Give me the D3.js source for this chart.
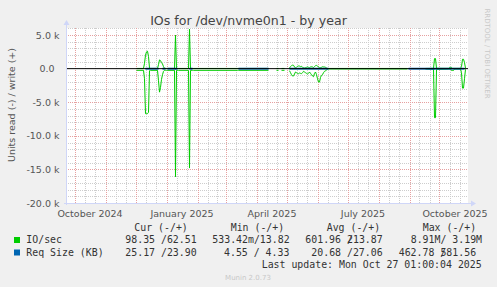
<!DOCTYPE html>
<html>
<head>
<meta charset="utf-8">
<script src="https://cdn.jsdelivr.net/npm/d3@7"></script>
<style>
body{margin:0;background:#f0f0f0;}
svg{display:block;font-family:"DejaVu Sans",sans-serif;}
.axis text{font-size:9.5px;fill:#555;font-family:"DejaVu Sans",sans-serif;}
.mono{font-family:"DejaVu Sans Mono",monospace;font-size:9.9px;fill:#333;}
</style>
</head>
<body>
<svg id="chart" width="497" height="287"></svg>
<script>
//***************************
//DATA (one entry per day, null = no sample)
//***************************
var days=["2024-12-02","2024-12-09","2024-12-10","2024-12-11","2024-12-12","2024-12-13","2024-12-14","2024-12-15","2024-12-16",
	"2024-12-23","2024-12-24","2024-12-25","2024-12-26","2024-12-27","2024-12-28","2024-12-29","2024-12-30","2024-12-31",
	"2025-01-01","2025-01-02","2025-01-09","2025-01-10","2025-01-11","2025-01-12","2025-01-13","2025-01-23","2025-01-24",
	"2025-01-25","2025-01-27","2025-01-28","2025-03-13","2025-03-14","2025-04-13","2025-04-14","2025-04-21","2025-04-23",
	"2025-04-24","2025-04-26","2025-04-29","2025-04-30",
	"2025-05-04","2025-05-05","2025-05-06","2025-05-07","2025-05-08","2025-05-09","2025-05-10","2025-05-11","2025-05-12",
	"2025-05-13","2025-05-14","2025-05-15","2025-05-16","2025-05-17","2025-05-18","2025-05-19","2025-05-20","2025-05-21",
	"2025-05-22","2025-05-23","2025-05-24","2025-05-25","2025-05-26","2025-05-27","2025-05-28","2025-05-29","2025-05-30",
	"2025-05-31","2025-06-01","2025-06-02","2025-06-03","2025-06-04","2025-06-05","2025-06-06","2025-06-07","2025-06-08",
	"2025-06-09","2025-06-10","2025-06-11","2025-06-12","2025-08-30","2025-08-31","2025-09-17","2025-09-25","2025-09-26",
	"2025-09-27","2025-09-28","2025-10-10","2025-10-11","2025-10-12","2025-10-13","2025-10-14","2025-10-15","2025-10-16",
	"2025-10-22","2025-10-23","2025-10-24","2025-10-25","2025-10-26","2025-10-27"];

var ioRead=[250,250,1500,6700,6700,6700,6500,300,250,
	250,1800,3500,2800,1600,900,400,250,250,
	250,250,250,16100,250,250,250,250,14800,
	250,250,250,250,250,250,null,250,250,
	null,250,250,null,
	300,600,900,1100,1100,800,500,600,700,
	750,650,700,750,600,400,500,600,700,
	800,700,500,700,900,1100,1200,700,500,
	900,1500,2000,2000,1300,1000,900,600,400,
	350,200,50,50,50,null,50,80,7300,
	7300,100,60,60,60,270,270,270,60,
	60,600,2900,2900,1500,98.35];

var ioWrite=[30,30,800,2000,2500,2600,1800,100,30,
	30,600,1300,1200,900,700,300,30,30,
	30,30,30,5000,30,30,30,30,5900,
	30,30,30,30,30,30,null,30,30,
	null,30,30,null,
	100,300,450,520,500,250,100,200,350,
	400,380,300,350,200,150,100,150,200,
	250,200,150,250,280,250,150,300,450,
	480,400,250,100,150,200,280,260,250,
	200,100,30,30,30,null,30,40,1500,
	1500,50,40,180,180,180,40,40,40,
	40,300,1400,1400,900,62.51];

var sizeRead=[null,null,null,24,26,27,25,22,20,
	21,24,null,null,null,23,22,21,20,
	null,22,23,28,24,22,null,null,27,
	23,22,null,null,21,22,null,null,null,
	null,null,null,null,
	21,22,23,24,22,21,20,22,23,
	24,22,21,20,22,23,21,22,24,
	23,22,21,20,22,23,24,22,21,
	20,22,23,24,22,21,20,22,23,
	21,22,21,22,null,23,24,30,
	29,25,24,23,24,25,24,25,24,
	24,25,26,26,25,25.17];

var sizeWrite=[null,null,null,22,23,25,24,21,22,
	23,25,null,null,null,24,23,22,21,
	null,24,25,30,26,24,null,null,29,
	25,24,null,null,23,24,null,null,null,
	null,null,null,null,
	26,27,28,27,26,25,27,28,27,
	26,27,28,26,27,28,27,26,27,
	28,27,26,27,28,27,26,27,28,
	27,26,27,28,27,26,27,28,27,
	26,27,24,25,null,24,25,28,
	27,24,23,24,24,23,24,24,23,
	24,24,25,25,24,23.90];

var yTicks=[-20000,-15000,-10000,-5000,0,5000];
var xLabelDays=["2024-10-16","2025-01-16","2025-04-16","2025-07-16","2025-10-16"];

var legendNames=["IO/sec","Req Size (KB)"];
var legendColors=["#00cc00","#0066b3"];
var legendHeads=["Cur (-/+)","Min (-/+)","Avg (-/+)","Max (-/+)"];
var curText=["98.35 /62.51","25.17 /23.90"];
var minText=["533.42m/13.82","4.55 / 4.33"];
var avgText=[["601.96 /","213.87"],["20.68 /27.06"]];
var maxText=[["8.91M/ 3.19M"],["462.78 /","581.56"]];
var lastUpdate="Last update: Mon Oct 27 01:00:04 2025";

//***************************
//SETUP
//***************************
var padL=66,padR=468,padT=28,padB=203;
var CW=5.96;	// mono char width
var parse=d3.utcParse("%Y-%m-%d");
var rows=days.map(function(d,i){
	return {t:parse(d),r:ioRead[i],w:ioWrite[i],sr:sizeRead[i],sw:sizeWrite[i]};
});

var svg=d3.select("#chart");
var x=d3.scaleUtc()
	.domain([new Date(Date.UTC(2024,8,22,12)),new Date(Date.UTC(2025,9,29,12))])
	.range([padL,padR]);
var y=d3.scaleLinear()
	.domain([-20000,6050])
	.range([padB,padT]);

svg.append("rect").attr("width",497).attr("height",287).attr("fill","#f0f0f0");
svg.append("rect")
	.attr("x",padL).attr("y",padT)
	.attr("width",padR-padL).attr("height",padB-padT)
	.attr("fill","#ffffff");

//***************************
//GRID
//***************************
var g_grid=svg.append("g");
var minorDays=d3.utcDay.every(10).range(x.domain()[0],x.domain()[1])
	.filter(function(d){return d.getUTCDate()!=31 && d.getUTCDate()!=1;});
var monthDays=d3.utcMonth.range(x.domain()[0],x.domain()[1]);

g_grid.selectAll(".vminor").data(minorDays).enter().append("line")
	.attr("x1",function(d){return Math.round(x(d))+0.5;})
	.attr("x2",function(d){return Math.round(x(d))+0.5;})
	.attr("y1",padT).attr("y2",padB)
	.attr("stroke","#cdcdcd").attr("stroke-dasharray","1,1");

var hMinor=d3.range(-20000,6001,1000).filter(function(v){return v%5000!=0;});
g_grid.selectAll(".hminor").data(hMinor).enter().append("line")
	.attr("x1",padL).attr("x2",padR)
	.attr("y1",function(d){return Math.round(y(d))+0.5;})
	.attr("y2",function(d){return Math.round(y(d))+0.5;})
	.attr("stroke","#cdcdcd").attr("stroke-dasharray","1,1");

g_grid.selectAll(".vmajor").data(monthDays).enter().append("line")
	.attr("x1",function(d){return Math.round(x(d))+0.5;})
	.attr("x2",function(d){return Math.round(x(d))+0.5;})
	.attr("y1",padT).attr("y2",padB)
	.attr("stroke","#e6a0a0").attr("stroke-dasharray","1,1");

g_grid.selectAll(".hmajor").data(yTicks.filter(function(v){return v!=0;})).enter().append("line")
	.attr("x1",padL).attr("x2",padR)
	.attr("y1",function(d){return Math.round(y(d))+0.5;})
	.attr("y2",function(d){return Math.round(y(d))+0.5;})
	.attr("stroke","#e6a0a0").attr("stroke-dasharray","1,1");

//***************************
//LINES
//***************************
function mkLine(key,sign){
	return d3.line()
		.defined(function(d){return d[key]!=null;})
		.x(function(d){return x(d.t);})
		.y(function(d){return y(sign*d[key]);});
}
var g_lines=svg.append("g").attr("fill","none");
g_lines.append("path").attr("d",mkLine("w",1)(rows)).attr("stroke",legendColors[0]).attr("stroke-width",1);
g_lines.append("path").attr("d",mkLine("r",-1)(rows)).attr("stroke",legendColors[0]).attr("stroke-width",1);
g_lines.append("path").attr("d",mkLine("sw",1)(rows)).attr("stroke",legendColors[1]).attr("stroke-width",1.6);
g_lines.append("path").attr("d",mkLine("sr",-1)(rows)).attr("stroke",legendColors[1]).attr("stroke-width",1.6);

// zero line
svg.append("line")
	.attr("x1",padL).attr("x2",padR)
	.attr("y1",y(0)).attr("y2",y(0))
	.attr("stroke","#000").attr("stroke-width",1);

//***************************
//AXES
//***************************
var axisCol="#cfd6f8";
svg.append("line").attr("x1",padL+0.5).attr("x2",padL+0.5).attr("y1",padB+2).attr("y2",padT-4)
	.attr("stroke",axisCol);
svg.append("line").attr("x1",padL-2).attr("x2",padR+4).attr("y1",padB+0.5).attr("y2",padB+0.5)
	.attr("stroke",axisCol);
svg.append("path").attr("d","M"+(padL-2.5)+","+(padT-3)+"L"+(padL+3.5)+","+(padT-3)+"L"+(padL+0.5)+","+(padT-8)+"Z")
	.attr("fill",axisCol);
svg.append("path").attr("d","M"+(padR+3)+","+(padB-2.5)+"L"+(padR+3)+","+(padB+3.5)+"L"+(padR+8)+","+(padB+0.5)+"Z")
	.attr("fill",axisCol);

var yAxis=d3.axisLeft(y).tickValues(yTicks).tickSize(0).tickPadding(6.5)
	.tickFormat(function(v){return v==0?"0.0":(v/1000).toFixed(1)+" k";});
var g_y=svg.append("g").attr("class","axis").attr("transform","translate("+padL+",0)").call(yAxis);
g_y.select(".domain").remove();
g_y.selectAll(".tick text").filter(function(v){return v==0;}).attr("x",-11.5);

var xAxis=d3.axisBottom(x).tickValues(xLabelDays.map(parse)).tickSize(0).tickPadding(7.3)
	.tickFormat(d3.utcFormat("%B %Y"));
var g_x=svg.append("g").attr("class","axis").attr("transform","translate(0,"+padB+")").call(xAxis);
g_x.select(".domain").remove();

//***************************
//TEXTS
//***************************
svg.append("text").attr("x",248.5).attr("y",24.5).attr("text-anchor","middle")
	.attr("font-size","12.6px").attr("fill","#444").text("IOs for /dev/nvme0n1 - by year");

svg.append("text").attr("transform","translate(15,105) rotate(-90)").attr("text-anchor","middle")
	.attr("font-size","9.5px").attr("fill","#555").text("Units read (-) / write (+)");

svg.append("text").attr("transform","translate(485.3,53.5) rotate(90)").attr("text-anchor","middle")
	.attr("font-size","7px").attr("fill","#c8c8c8").text("RRDTOOL / TOBI OETIKER");

//***************************
//LEGEND
//***************************
var g_leg=svg.append("g").attr("class","mono");
var headX=[134.3,230.7,326.7,422.7];
legendHeads.forEach(function(h,i){
	g_leg.append("text").attr("x",headX[i]).attr("y",230.5).attr("xml:space","preserve").text(h);
});
var rowY=[243,255.5];
var colX=[[125.3,212.3,305.3,410.7],[125.3,224,311.3,398.7]];
legendNames.forEach(function(n,i){
	g_leg.append("rect").attr("x",14).attr("y",rowY[i]-6).attr("width",6).attr("height",6)
		.attr("fill",legendColors[i]);
	g_leg.append("text").attr("x",26.3).attr("y",rowY[i]).attr("xml:space","preserve").text(n);
	var cells=[[curText[i]],[minText[i]],avgText[i],maxText[i]];
	cells.forEach(function(c,j){
		c.forEach(function(part,k){
			g_leg.append("text").attr("x",colX[i][j]+k*7*CW).attr("y",rowY[i])
				.attr("xml:space","preserve").text(part);
		});
	});
});
g_leg.append("text").attr("x",261.7).attr("y",267.5).attr("xml:space","preserve").text(lastUpdate);

svg.append("text").attr("x",248).attr("y",279.5).attr("text-anchor","middle")
	.attr("font-size","7px").attr("fill","#c8c8c8").text("Munin 2.0.73");
</script>
</body>
</html>
